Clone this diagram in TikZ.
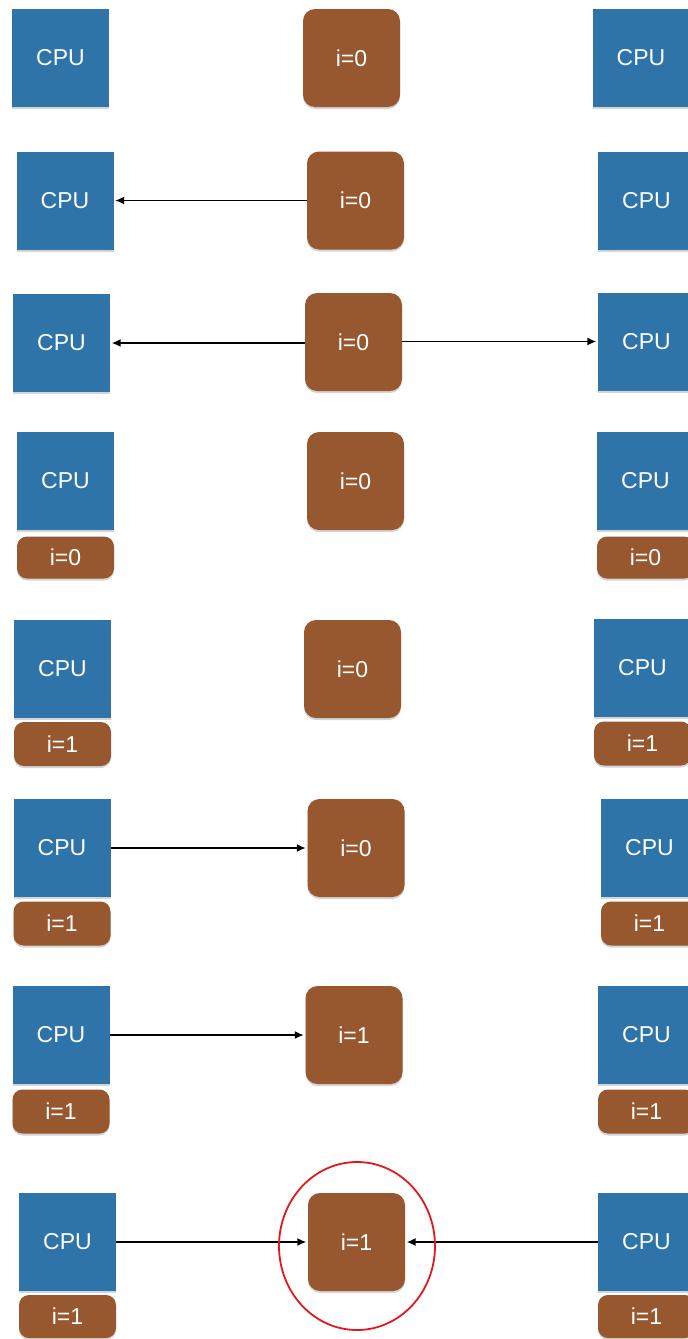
\documentclass[tikz,border=0pt]{standalone}
\usepackage{fontspec}
\setmainfont{Liberation Sans}
\usetikzlibrary{arrows.meta,shadows,shapes.geometric}

\definecolor{cpublue}{RGB}{46,116,168}
\definecolor{varbrown}{RGB}{151,88,48}
\definecolor{ringred}{RGB}{226,24,28}

\tikzset{
  boxshadow/.style={drop shadow={shadow xshift=0pt, shadow yshift=-2pt, opacity=0.28, fill=black!60}},
  cpubox/.style={fill=cpublue, text=white, font=\fontsize{23}{23}\selectfont,
    minimum width=97pt, minimum height=98pt, inner sep=0pt, boxshadow},
  membox/.style={fill=varbrown, text=white, font=\fontsize{23}{23}\selectfont,
    rounded corners=12pt, minimum width=97pt, minimum height=98pt, inner sep=0pt, boxshadow},
  cachebox/.style={fill=varbrown, text=white, font=\fontsize{23}{23}\selectfont,
    rounded corners=10pt, minimum width=97pt, minimum height=44pt, inner sep=0pt, boxshadow},
  link/.style={draw=black, line width=1.5pt, -{Latex[length=9pt,width=8pt]}, shorten >=1.5pt},
}

\begin{document}
\begin{tikzpicture}[x=1pt, y=-1pt]
\useasboundingbox (0,0) rectangle (688,1339);
\clip (0,0) rectangle (688,1339);

% row 1: initial state
\node[cpubox] (l1) at (60.5,58) {CPU};
\node[membox] (m1) at (351.5,58) {i=0};
\node[cpubox] (r1) at (641,57.5) {CPU};

% row 2: left CPU reads
\node[cpubox] (l2) at (65,200.5) {CPU};
\node[membox] (m2) at (355.5,200.5) {i=0};
\node[cpubox] (r2) at (646.5,200.5) {CPU};
\draw[link] (m2.west) -- (l2.east);

% row 3: both CPUs read
\node[cpubox] (l3) at (61.5,343) {CPU};
\node[membox] (m3) at (353.5,342) {i=0};
\node[cpubox] (r3) at (646.5,341.5) {CPU};
\draw[link] (m3.west |- l3.east) -- (l3.east);
\draw[link] (m3.east |- r3.west) -- (r3.west);

% row 4: local copies
\node[cpubox] (l4) at (65.5,481) {CPU};
\node[cachebox, minimum height=42pt] (lc4) at (65.5,557.5) {i=0};
\node[membox] (m4) at (355.5,481) {i=0};
\node[cpubox] (r4) at (645.5,480.5) {CPU};
\node[cachebox, minimum height=42pt] (rc4) at (645.5,557.5) {i=0};

% row 5: both increment
\node[cpubox] (l5) at (62.5,669) {CPU};
\node[cachebox] (lc5) at (62.5,744) {i=1};
\node[membox] (m5) at (352.5,669) {i=0};
\node[cpubox] (r5) at (642.5,668) {CPU};
\node[cachebox] (rc5) at (642.5,743.5) {i=1};

% row 6: left CPU writes back
\node[cpubox] (l6) at (62,848) {CPU};
\node[cachebox] (lc6) at (62,923.5) {i=1};
\node[membox] (m6) at (356,848) {i=0};
\node[cpubox] (r6) at (649.5,847.5) {CPU};
\node[cachebox] (rc6) at (649.5,923.5) {i=1};
\draw[link] (l6.east) -- (m6.west);

% row 7: memory holds 1
\node[cpubox] (l7) at (61,1035) {CPU};
\node[cachebox] (lc7) at (61,1111.5) {i=1};
\node[membox] (m7) at (354,1035) {i=1};
\node[cpubox] (r7) at (646.5,1034.5) {CPU};
\node[cachebox] (rc7) at (646.5,1111.5) {i=1};
\draw[link] (l7.east) -- (m7.west);

% row 8: both writes land, result is 1
\node[cpubox] (l8) at (67.5,1242) {CPU};
\node[cachebox, minimum height=43pt] (lc8) at (67.5,1316.5) {i=1};
\node[membox] (m8) at (356.5,1242) {i=1};
\node[cpubox] (r8) at (646.5,1242) {CPU};
\node[cachebox, minimum height=43pt] (rc8) at (646.5,1316.5) {i=1};
\draw[link] (l8.east) -- (m8.west);
\draw[link] (r8.west) -- (m8.east);
\node[draw=ringred, line width=1.8pt, ellipse, minimum width=156pt, minimum height=168pt, inner sep=0pt] (ring) at (357,1246) {};
\end{tikzpicture}
\end{document}
